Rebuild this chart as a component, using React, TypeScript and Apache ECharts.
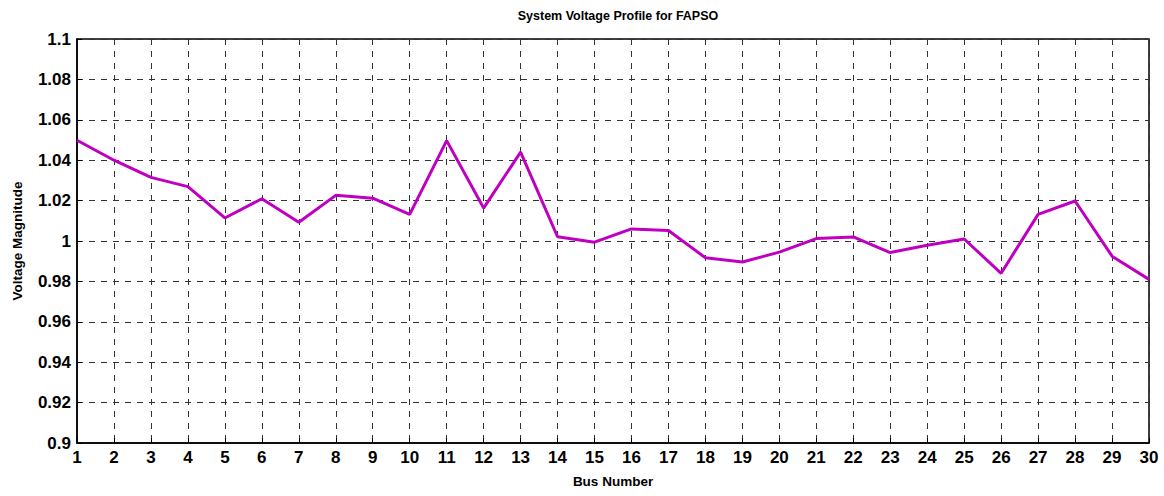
import React, { useEffect, useRef } from "react";
import * as echarts from "echarts";

const busNumbers = [1,2,3,4,5,6,7,8,9,10,11,12,13,14,15,16,17,18,19,20,21,22,23,24,25,26,27,28,29,30];
const voltages = [1.0499,1.0400,1.0315,1.0269,1.0114,1.0209,1.0093,1.0226,1.0212,1.0132,1.0497,1.0163,1.0440,1.0021,0.9994,1.0060,1.0052,0.9917,0.9896,0.9945,1.0012,1.0020,0.9943,0.9979,1.0010,0.9840,1.0132,1.0198,0.9925,0.9810];

const titleText = "System Voltage Profile for FAPSO";
const xLabel = "Bus Number";
const yLabel = "Voltage Magnitude";

export default function App() {
  const ref = useRef<HTMLDivElement>(null);
  useEffect(() => {
    if (!ref.current) return;
    const chart = echarts.init(ref.current, null, { renderer: "svg" });
    const font = "Arial, 'Liberation Sans', Helvetica, sans-serif";
    const gridLine = { show: true, lineStyle: { color: "#333", type: [6, 6] as any, width: 1 } };
    chart.setOption({
      animation: false,
      backgroundColor: "#fff",
      title: {
        text: titleText,
        left: 613,
        top: 4,
        textAlign: "center",
        textStyle: { fontFamily: font, fontSize: 12.5, fontWeight: "bold", color: "#000" },
      },
      grid: { left: 77, right: 15, top: 39, bottom: 53, show: true, borderColor: "#000", borderWidth: 1.5, backgroundColor: "transparent" },
      xAxis: {
        type: "value",
        min: 1,
        max: 30,
        interval: 1,
        name: xLabel,
        nameLocation: "middle",
        nameGap: 31,
        nameTextStyle: { fontFamily: font, fontSize: 13.5, fontWeight: "bold", color: "#000" },
        axisLine: { show: true, lineStyle: { color: "#000", width: 1.5 } },
        axisTick: { show: true, inside: true, length: 5, lineStyle: { color: "#000" } },
        axisLabel: { fontFamily: font, fontSize: 17, fontWeight: "bold", color: "#000", margin: 6 },
        splitLine: gridLine,
      },
      yAxis: {
        type: "value",
        min: 0.9,
        max: 1.1,
        interval: 0.02,
        name: yLabel,
        nameLocation: "middle",
        nameGap: 53,
        nameTextStyle: { fontFamily: font, fontSize: 13.5, fontWeight: "bold", color: "#000" },
        axisLine: { show: true, lineStyle: { color: "#000", width: 1.5 } },
        axisTick: { show: true, inside: true, length: 5, lineStyle: { color: "#000" } },
        axisLabel: {
          fontFamily: font, fontSize: 17, fontWeight: "bold", color: "#000", margin: 6,
          formatter: (v: number) => String(Number(v.toFixed(2))),
        },
        splitLine: gridLine,
      },
      series: [
        {
          type: "line",
          data: busNumbers.map((b, i) => [b, voltages[i]]),
          showSymbol: false,
          lineStyle: { color: "#C000C0", width: 3 },
          itemStyle: { color: "#C000C0" },
        },
      ],
    });
    return () => chart.dispose();
  }, []);
  return <div ref={ref} style={{ position: "fixed", left: 0, top: 0, width: 1164, height: 496 }} />;
}
